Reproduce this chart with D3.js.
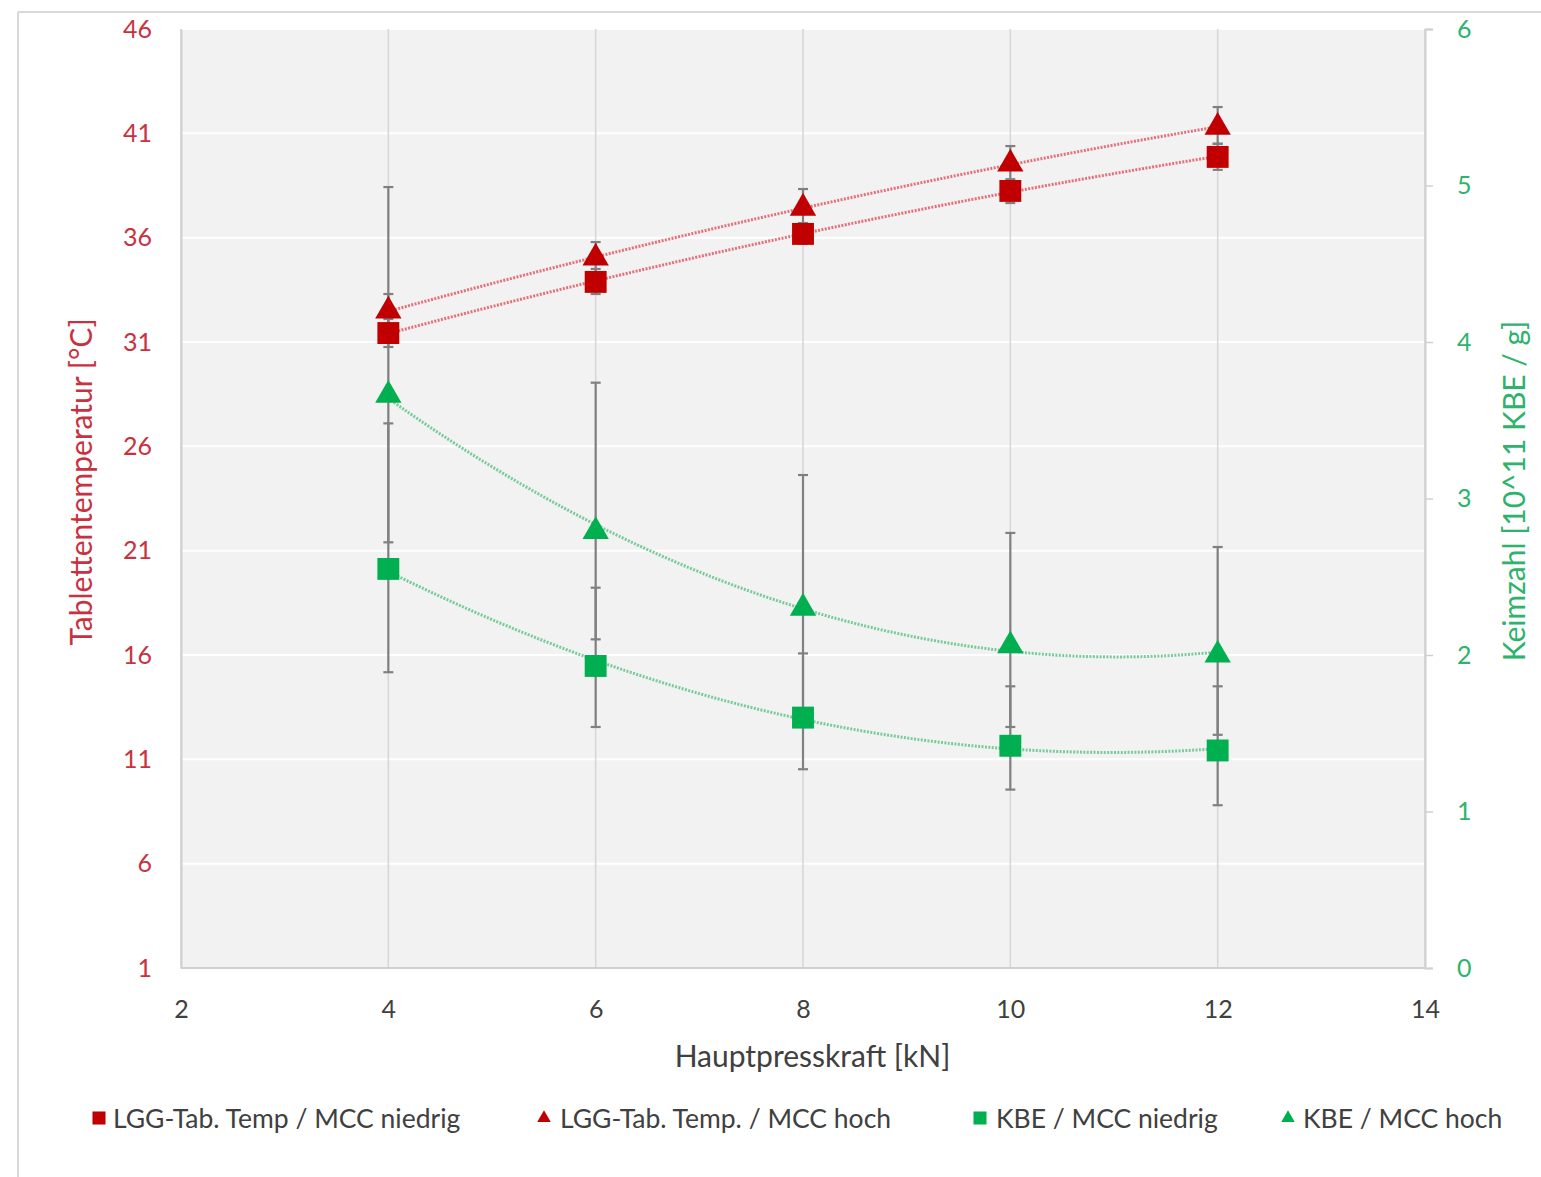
<!DOCTYPE html>
<html>
<head>
<meta charset="utf-8">
<script src="https://cdn.jsdelivr.net/npm/d3@7"></script>
<style>
  html, body { margin: 0; padding: 0; background: #ffffff; }
  svg { display: block; font-family: Lato, "Open Sans", sans-serif; }
</style>
</head>
<body>
<svg id="chart" width="1541" height="1177"></svg>
<script>
// Hauptpresskraft (kN)
const force = [4, 6, 8, 10, 12];

// Tablettentemperatur (°C), MCC niedrig / hoch, with error bar limits
const tempLow        = [31.43, 33.88, 36.18, 38.24, 39.87];
const tempLowErrMin  = [30.76, 33.30, 35.70, 37.66, 39.25];
const tempLowErrMax  = [32.10, 34.50, 36.70, 38.80, 40.50];
const tempHigh       = [32.49, 35.03, 37.42, 39.53, 41.30];
const tempHighErrMin = [31.70, 34.30, 36.60, 38.70, 40.50];
const tempHighErrMax = [33.30, 35.79, 38.33, 40.39, 42.26];

// Keimzahl (10^11 KBE / g), MCC niedrig / hoch, with error bar limits
const kbeLow        = [2.55, 1.93, 1.60, 1.42, 1.39];
const kbeLowErrMin  = [1.89, 1.54, 1.27, 1.14, 1.04];
const kbeLowErrMax  = [3.48, 2.43, 2.01, 1.80, 1.80];
const kbeHigh       = [3.66, 2.79, 2.30, 2.06, 2.00];
const kbeHighErrMin = [2.72, 2.10, 1.54, 1.54, 1.49];
const kbeHighErrMax = [4.99, 3.74, 3.15, 2.78, 2.69];

// Axis ticks
const xTicks = [2, 4, 6, 8, 10, 12, 14];
const yLeftTicks = [1, 6, 11, 16, 21, 26, 31, 36, 41, 46];
const yRightTicks = [0, 1, 2, 3, 4, 5, 6];

const legendLabels = [
  "LGG-Tab. Temp / MCC niedrig",
  "LGG-Tab. Temp. / MCC hoch",
  "KBE / MCC niedrig",
  "KBE / MCC hoch"
];

const RED = "#c00000";
const GREEN = "#00b050";
const RED_TEXT = "#c8323f";
const GREEN_TEXT = "#2db36b";
const TEXT = "#404040";

const svg = d3.select("#chart");
const plot = { left: 181, right: 1425, top: 29, bottom: 968 };

const x = d3.scaleLinear().domain([2, 14]).range([plot.left, plot.right]);
const yL = d3.scaleLinear().domain([1, 46]).range([plot.bottom, plot.top]);
const yR = d3.scaleLinear().domain([0, 6]).range([plot.bottom, plot.top]);

// outer frame lines
svg.append("line").attr("x1", 18).attr("x2", 1541).attr("y1", 12).attr("y2", 12)
  .attr("stroke", "#d9d9d9").attr("stroke-width", 2);
svg.append("line").attr("x1", 18).attr("x2", 18).attr("y1", 12).attr("y2", 1177)
  .attr("stroke", "#d9d9d9").attr("stroke-width", 2);

// plot background
svg.append("rect")
  .attr("x", plot.left).attr("y", plot.top)
  .attr("width", plot.right - plot.left).attr("height", plot.bottom - plot.top)
  .attr("fill", "#f2f2f2");

// horizontal gridlines (white)
svg.append("g").selectAll("line").data(yLeftTicks).join("line")
  .attr("x1", plot.left).attr("x2", plot.right)
  .attr("y1", d => yL(d)).attr("y2", d => yL(d))
  .attr("stroke", "#ffffff").attr("stroke-width", 2);

// vertical gridlines
svg.append("g").selectAll("line").data(xTicks).join("line")
  .attr("x1", d => x(d)).attr("x2", d => x(d))
  .attr("y1", plot.top).attr("y2", plot.bottom)
  .attr("stroke", "#d6d6d6").attr("stroke-width", 1.5);

// bottom border line
svg.append("line").attr("x1", plot.left).attr("x2", plot.right)
  .attr("y1", plot.bottom).attr("y2", plot.bottom)
  .attr("stroke", "#d0d0d0").attr("stroke-width", 2);

// left axis
const gL = svg.append("g").attr("transform", `translate(${plot.left},0)`)
  .call(d3.axisLeft(yL).tickValues(yLeftTicks).tickSize(0).tickPadding(29));
gL.select(".domain").attr("stroke", "#d0d0d0").attr("stroke-width", 2);
gL.selectAll("text").attr("fill", RED_TEXT).attr("font-size", 25)
  .attr("font-family", "Lato, sans-serif");

// right axis
const gR = svg.append("g").attr("transform", `translate(${plot.right},0)`)
  .call(d3.axisRight(yR).tickValues(yRightTicks).tickFormat(d3.format("d"))
    .tickSize(8).tickPadding(24));
gR.select(".domain").attr("stroke", "#d0d0d0").attr("stroke-width", 2);
gR.selectAll(".tick line").attr("stroke", "#d0d0d0").attr("stroke-width", 1.5);
gR.selectAll("text").attr("fill", GREEN_TEXT).attr("font-size", 25)
  .attr("font-family", "Lato, sans-serif");

// bottom axis
const gB = svg.append("g").attr("transform", `translate(0,${plot.bottom})`)
  .call(d3.axisBottom(x).tickValues(xTicks).tickSize(0).tickPadding(32));
gB.select(".domain").remove();
gB.selectAll("text").attr("fill", TEXT).attr("font-size", 25)
  .attr("font-family", "Lato, sans-serif");

// axis titles
svg.append("text")
  .attr("transform", `translate(${(672 + 953) / 2},1067)`)
  .attr("text-anchor", "middle")
  .attr("fill", TEXT).attr("font-size", 30)
  .text("Hauptpresskraft [kN]");

svg.append("text")
  .attr("transform", "translate(92,482) rotate(-90)")
  .attr("text-anchor", "middle")
  .attr("fill", RED_TEXT).attr("font-size", 30)
  .text("Tablettentemperatur [°C]");

svg.append("text")
  .attr("transform", "translate(1525,491) rotate(-90)")
  .attr("text-anchor", "middle")
  .attr("fill", GREEN_TEXT).attr("font-size", 30)
  .text("Keimzahl [10^11 KBE / g]");

// second-order polynomial least-squares trend line
function quadFit(xs, ys) {
  let s = [0, 0, 0, 0, 0], t = [0, 0, 0];
  xs.forEach((xi, i) => {
    for (let k = 0; k < 5; k++) s[k] += Math.pow(xi, k);
    for (let k = 0; k < 3; k++) t[k] += ys[i] * Math.pow(xi, k);
  });
  const A = [[s[0], s[1], s[2], t[0]], [s[1], s[2], s[3], t[1]], [s[2], s[3], s[4], t[2]]];
  for (let c = 0; c < 3; c++) {
    for (let r = c + 1; r < 3; r++) {
      const f = A[r][c] / A[c][c];
      for (let k = c; k < 4; k++) A[r][k] -= f * A[c][k];
    }
  }
  const b = [0, 0, 0];
  for (let r = 2; r >= 0; r--) {
    let v = A[r][3];
    for (let k = r + 1; k < 3; k++) v -= A[r][k] * b[k];
    b[r] = v / A[r][r];
  }
  return v => b[0] + b[1] * v + b[2] * v * v;
}

const series = [
  { vals: tempLow, lo: tempLowErrMin, hi: tempLowErrMax, y: yL, color: RED, shape: "square", trend: "#e6707a" },
  { vals: tempHigh, lo: tempHighErrMin, hi: tempHighErrMax, y: yL, color: RED, shape: "triangle", trend: "#e6707a" },
  { vals: kbeLow, lo: kbeLowErrMin, hi: kbeLowErrMax, y: yR, color: GREEN, shape: "square", trend: "#78cc9a" },
  { vals: kbeHigh, lo: kbeHighErrMin, hi: kbeHighErrMax, y: yR, color: GREEN, shape: "triangle", trend: "#78cc9a" }
];

// trend lines
const sampleX = d3.range(0, 161).map(i => force[0] + (force[force.length - 1] - force[0]) * i / 160);
const lineGen = d3.line();
series.forEach(s => {
  const f = quadFit(force, s.vals);
  svg.append("path")
    .attr("d", lineGen(sampleX.map(v => [x(v), s.y(f(v))])))
    .attr("fill", "none")
    .attr("stroke", s.trend)
    .attr("stroke-width", 3)
    .attr("stroke-dasharray", "2 1.4");
});

// error bars
const CAP = 5;
series.forEach(s => {
  const g = svg.append("g").attr("stroke", "#808080").attr("stroke-width", 2.2);
  force.forEach((f, i) => {
    const cx = x(f), y1 = s.y(s.lo[i]), y2 = s.y(s.hi[i]);
    g.append("line").attr("x1", cx).attr("x2", cx).attr("y1", y1).attr("y2", y2);
    g.append("line").attr("x1", cx - CAP).attr("x2", cx + CAP).attr("y1", y1).attr("y2", y1);
    g.append("line").attr("x1", cx - CAP).attr("x2", cx + CAP).attr("y1", y2).attr("y2", y2);
  });
});

// markers
const sqSym = d3.symbol().type(d3.symbolSquare).size(480);
const triSym = d3.symbol().type(d3.symbolTriangle).size(300);
series.forEach(s => {
  svg.append("g").selectAll("path").data(force).join("path")
    .attr("transform", (f, i) => `translate(${x(f)},${s.y(s.vals[i])})`)
    .attr("d", s.shape === "square" ? sqSym() : triSym())
    .attr("fill", s.color);
});

// legend
const legendItems = [
  { x: 92, textX: 113 },
  { x: 537, textX: 560 },
  { x: 973, textX: 996 },
  { x: 1281, textX: 1303 }
];
const legendY = 1118;
legendLabels.forEach((label, i) => {
  const s = series[i];
  const it = legendItems[i];
  const sym = s.shape === "square"
    ? d3.symbol().type(d3.symbolSquare).size(170)
    : d3.symbol().type(d3.symbolTriangle).size(80);
  svg.append("path")
    .attr("transform", `translate(${it.x + 7},${legendY})`)
    .attr("d", sym())
    .attr("fill", s.color);
  svg.append("text")
    .attr("x", it.textX).attr("y", legendY)
    .attr("dominant-baseline", "central")
    .attr("fill", TEXT).attr("font-size", 26.5)
    .text(label);
});
</script>
</body>
</html>
